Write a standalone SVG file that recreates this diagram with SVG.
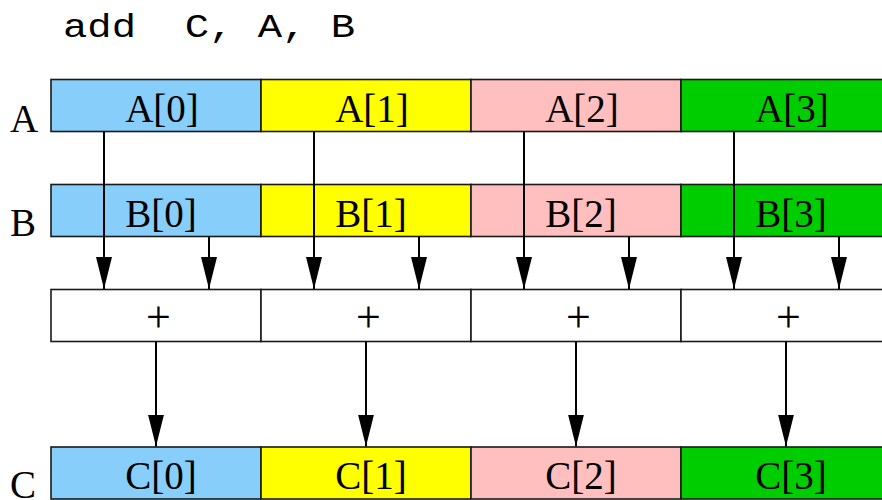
<svg xmlns="http://www.w3.org/2000/svg" width="882" height="500" viewBox="0 0 882 500">
  <style>
    .cell { stroke: #1a1a1a; stroke-width: 1.6; }
    .blue { fill: #87cefa; }
    .yellow { fill: #ffff00; }
    .pink { fill: #ffbfbf; }
    .green { fill: #00cd00; }
    .op { fill: #ffffff; }
    .lbl { font-family: "Liberation Serif", "Times New Roman", serif; font-size: 39px; fill: #000; text-anchor: middle; }
    .row { font-family: "Liberation Serif", "Times New Roman", serif; font-size: 39px; fill: #000; }
    .plus { font-family: "Liberation Serif", "Times New Roman", serif; font-size: 44px; fill: #000; text-anchor: middle; }
    .code { font-family: "Liberation Mono", "Courier New", monospace; font-size: 33px; fill: #000; }
    .wire { stroke: #000; stroke-width: 2; fill: none; marker-end: url(#head); }
  </style>
  <defs>
    <marker id="head" viewBox="0 0 32 16" refX="32" refY="8" markerWidth="32" markerHeight="16" markerUnits="userSpaceOnUse" orient="auto">
      <path d="M0,0 L32,8 L0,16 z" fill="#000"/>
    </marker>
  </defs>

  <rect width="882" height="500" fill="#ffffff"/>

  <!-- instruction -->
  <text class="code" x="63" y="37" textLength="292" lengthAdjust="spacingAndGlyphs" xml:space="preserve">add  C, A, B</text>

  <!-- row names -->
  <text class="row" x="10" y="132">A</text>
  <text class="row" x="10" y="236">B</text>
  <text class="row" x="10" y="498">C</text>

  <!-- vector A -->
  <g id="A0"><rect class="cell blue" x="51" y="79.5" width="210" height="52"/><text class="lbl" x="162" y="122">A[0]</text></g>
  <g id="A1"><rect class="cell yellow" x="261" y="79.5" width="210" height="52"/><text class="lbl" x="372" y="122">A[1]</text></g>
  <g id="A2"><rect class="cell pink" x="471" y="79.5" width="210" height="52"/><text class="lbl" x="582" y="122">A[2]</text></g>
  <g id="A3"><rect class="cell green" x="681" y="79.5" width="210" height="52"/><text class="lbl" x="792" y="122">A[3]</text></g>

  <!-- vector B -->
  <g id="B0"><rect class="cell blue" x="51" y="184.5" width="210" height="52"/><text class="lbl" x="161" y="227">B[0]</text></g>
  <g id="B1"><rect class="cell yellow" x="261" y="184.5" width="210" height="52"/><text class="lbl" x="371" y="227">B[1]</text></g>
  <g id="B2"><rect class="cell pink" x="471" y="184.5" width="210" height="52"/><text class="lbl" x="581" y="227">B[2]</text></g>
  <g id="B3"><rect class="cell green" x="681" y="184.5" width="210" height="52"/><text class="lbl" x="791" y="227">B[3]</text></g>

  <!-- adders -->
  <g id="add0"><rect class="cell op" x="51" y="289.5" width="210" height="52"/><text class="plus" x="158.5" y="332">+</text></g>
  <g id="add1"><rect class="cell op" x="261" y="289.5" width="210" height="52"/><text class="plus" x="368.5" y="332">+</text></g>
  <g id="add2"><rect class="cell op" x="471" y="289.5" width="210" height="52"/><text class="plus" x="578.5" y="332">+</text></g>
  <g id="add3"><rect class="cell op" x="681" y="289.5" width="210" height="52"/><text class="plus" x="788.5" y="332">+</text></g>

  <!-- vector C -->
  <g id="C0"><rect class="cell blue" x="51" y="447" width="210" height="52"/><text class="lbl" x="161" y="488.5">C[0]</text></g>
  <g id="C1"><rect class="cell yellow" x="261" y="447" width="210" height="52"/><text class="lbl" x="371" y="488.5">C[1]</text></g>
  <g id="C2"><rect class="cell pink" x="471" y="447" width="210" height="52"/><text class="lbl" x="581" y="488.5">C[2]</text></g>
  <g id="C3"><rect class="cell green" x="681" y="447" width="210" height="52"/><text class="lbl" x="791" y="488.5">C[3]</text></g>

  <!-- data flow -->
  <g id="connectors">
    <line class="wire" x1="104" y1="131.5" x2="104" y2="289"/>
    <line class="wire" x1="209" y1="236.5" x2="209" y2="289"/>
    <line class="wire" x1="314" y1="131.5" x2="314" y2="289"/>
    <line class="wire" x1="419" y1="236.5" x2="419" y2="289"/>
    <line class="wire" x1="524" y1="131.5" x2="524" y2="289"/>
    <line class="wire" x1="629" y1="236.5" x2="629" y2="289"/>
    <line class="wire" x1="734" y1="131.5" x2="734" y2="289"/>
    <line class="wire" x1="839" y1="236.5" x2="839" y2="289"/>

    <line class="wire" x1="156" y1="341.5" x2="156" y2="446.5"/>
    <line class="wire" x1="366" y1="341.5" x2="366" y2="446.5"/>
    <line class="wire" x1="576" y1="341.5" x2="576" y2="446.5"/>
    <line class="wire" x1="786" y1="341.5" x2="786" y2="446.5"/>
  </g>
</svg>
